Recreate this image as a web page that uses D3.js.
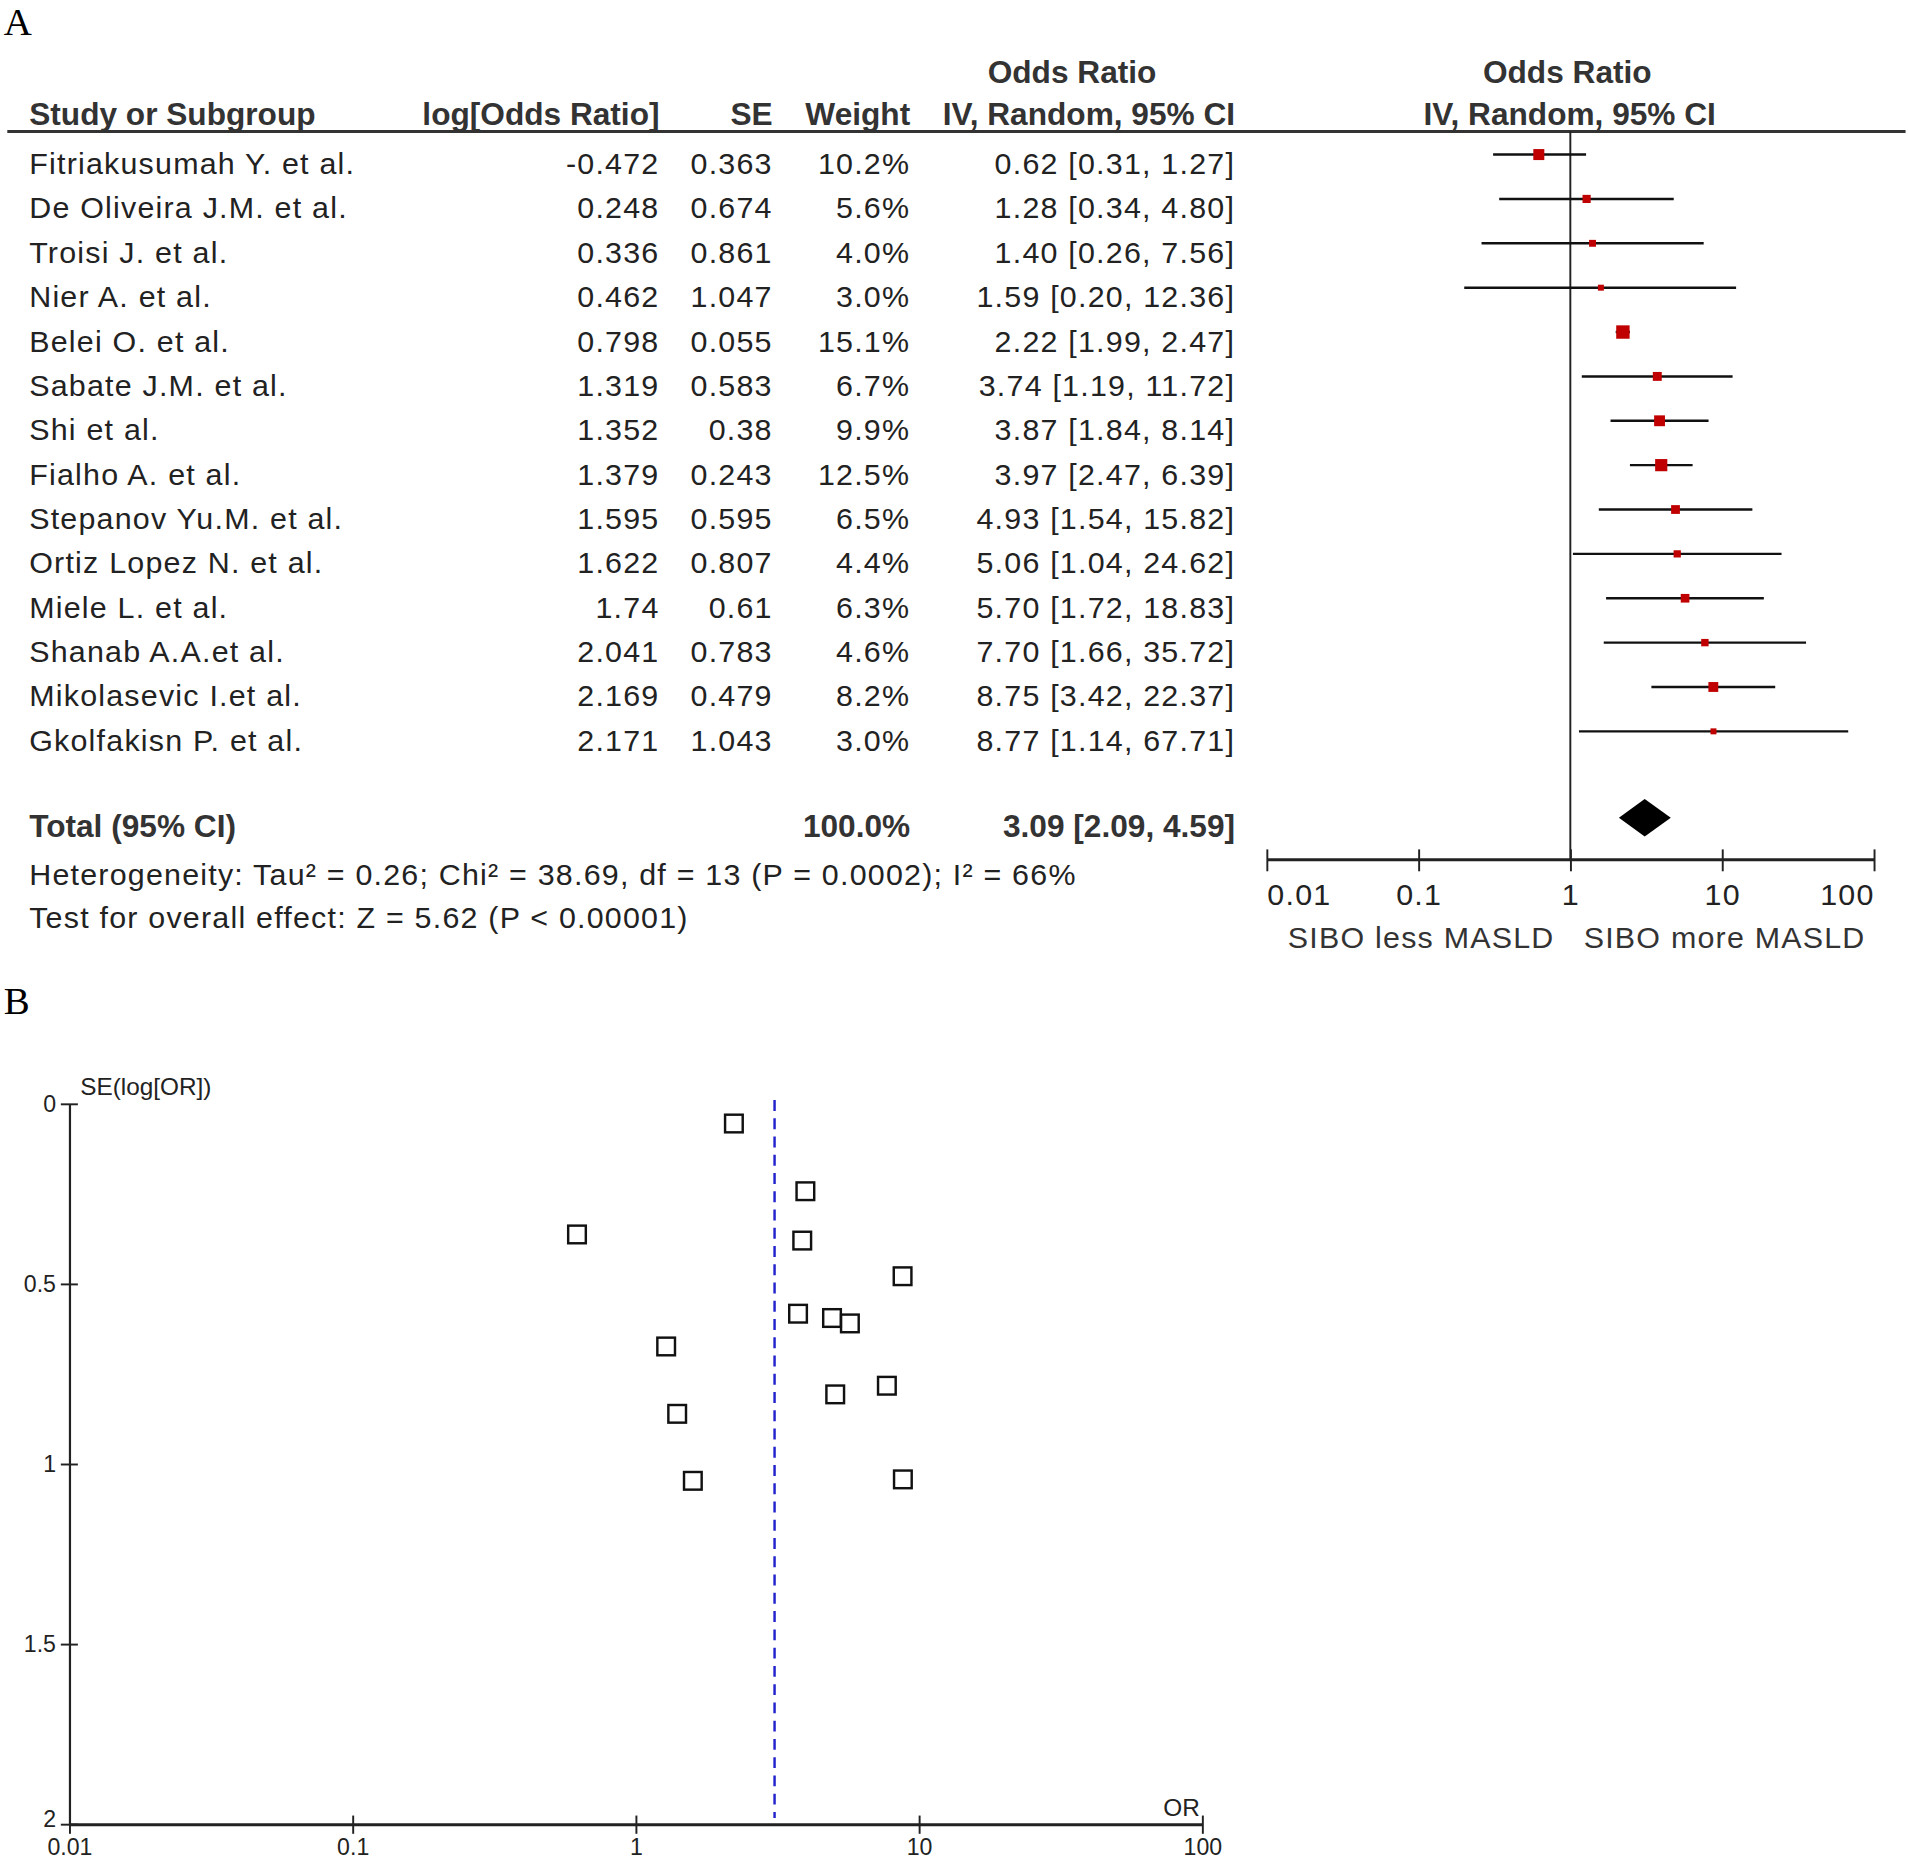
<!DOCTYPE html>
<html>
<head>
<meta charset="utf-8">
<script src="https://cdn.jsdelivr.net/npm/d3@7"></script>
<style>
  body { margin: 0; background: #fff; }
  text { font-family: "Liberation Sans", Arial, sans-serif; fill: #222; }
</style>
</head>
<body>
<div id="chart"></div>
<script>
// Study data.
var studies = ["Fitriakusumah Y. et al.", "De Oliveira J.M. et al.", "Troisi J. et al.",
               "Nier A. et al.", "Belei O. et al.", "Sabate J.M. et al.", "Shi et al.",
               "Fialho A. et al.", "Stepanov Yu.M. et al.", "Ortiz Lopez N. et al.",
               "Miele L. et al.", "Shanab A.A.et al.", "Mikolasevic I.et al.", "Gkolfakisn P. et al."];
var logOR  = [-0.472, 0.248, 0.336, 0.462, 0.798, 1.319, 1.352, 1.379, 1.595, 1.622, 1.74, 2.041, 2.169, 2.171];
var se     = [0.363, 0.674, 0.861, 1.047, 0.055, 0.583, 0.38, 0.243, 0.595, 0.807, 0.61, 0.783, 0.479, 1.043];
var weight = [10.2, 5.6, 4.0, 3.0, 15.1, 6.7, 9.9, 12.5, 6.5, 4.4, 6.3, 4.6, 8.2, 3.0];
var oddsR  = [0.62, 1.28, 1.40, 1.59, 2.22, 3.74, 3.87, 3.97, 4.93, 5.06, 5.70, 7.70, 8.75, 8.77];
var lower  = [0.31, 0.34, 0.26, 0.20, 1.99, 1.19, 1.84, 2.47, 1.54, 1.04, 1.72, 1.66, 3.42, 1.14];
var upper  = [1.27, 4.80, 7.56, 12.36, 2.47, 11.72, 8.14, 6.39, 15.82, 24.62, 18.83, 35.72, 22.37, 67.71];

// Pooled result and footer text.
var total = {or: 3.09, lower: 2.09, upper: 4.59, weight: 100.0};
var heterogeneity = "Heterogeneity: Tau\u00b2 = 0.26; Chi\u00b2 = 38.69, df = 13 (P = 0.0002); I\u00b2 = 66%";
var overallTest = "Test for overall effect: Z = 5.62 (P < 0.00001)";
var forestLabels = ["SIBO less MASLD", "SIBO more MASLD"];

// Axis ticks.
var orTicks = [0.01, 0.1, 1, 10, 100];
var seTicks = [0, 0.5, 1, 1.5, 2];

// Whole picture is laid out in a 1568-wide frame and scaled up to the window.
var W = 1568, H = 1528.5;
var svg = d3.select("#chart").append("svg")
    .attr("width", 1908)
    .attr("height", 1860)
    .attr("viewBox", "0 0 " + W + " " + H);

// Panel letters.
svg.append("text").attr("x", 3).attr("y", 29).text("A")
    .style("font-family", "'Liberation Serif', 'Times New Roman', serif")
    .attr("font-size", 32).style("fill", "#000");
svg.append("text").attr("x", 3).attr("y", 833).text("B")
    .style("font-family", "'Liberation Serif', 'Times New Roman', serif")
    .attr("font-size", 32).style("fill", "#000");

// ---------------- Panel A: forest plot ----------------
var fs = 25;           // body font size
var ls = 1;            // letter spacing for body text
var col = {study: 24, logor: 542, se: 635, weight: 748, ci: 1015};

var header = svg.append("g").attr("font-weight", "bold").attr("font-size", 26);
header.append("text").attr("x", 881).attr("y", 68).attr("text-anchor", "middle").text("Odds Ratio").style("fill", "#333");
header.append("text").attr("x", 1288).attr("y", 68).attr("text-anchor", "middle").text("Odds Ratio").style("fill", "#333");
header.append("text").attr("x", col.study).attr("y", 103).text("Study or Subgroup").style("fill", "#333");
header.append("text").attr("x", col.logor).attr("y", 103).attr("text-anchor", "end").text("log[Odds Ratio]").style("fill", "#333");
header.append("text").attr("x", col.se).attr("y", 103).attr("text-anchor", "end").text("SE").style("fill", "#333");
header.append("text").attr("x", col.weight).attr("y", 103).attr("text-anchor", "end").text("Weight").style("fill", "#333");
header.append("text").attr("x", col.ci).attr("y", 103).attr("text-anchor", "end").text("IV, Random, 95% CI").style("fill", "#333");
header.append("text").attr("x", 1290).attr("y", 103).attr("text-anchor", "middle").text("IV, Random, 95% CI").style("fill", "#333");

svg.append("line")
    .attr("x1", 6).attr("x2", 1566).attr("y1", 108).attr("y2", 108)
    .attr("stroke", "#333").attr("stroke-width", 2.5);

var rowY = d3.scaleLinear().domain([0, studies.length - 1]).range([143, 617]);
var x = d3.scaleLog().domain([0.01, 100]).range([1041, 1540]);
var boxSize = d3.scaleSqrt().domain([0, 15.1]).range([0, 11]);

var rows = svg.append("g").attr("font-size", fs).attr("letter-spacing", ls);
var row = rows.selectAll("g.row").data(studies).enter().append("g").attr("class", "row");

row.append("text").attr("x", col.study).attr("y", function(d, i) { return rowY(i); }).text(function(d) { return d; });
row.append("text").attr("x", col.logor).attr("y", function(d, i) { return rowY(i); }).attr("text-anchor", "end")
    .text(function(d, i) { return String(logOR[i]); });
row.append("text").attr("x", col.se).attr("y", function(d, i) { return rowY(i); }).attr("text-anchor", "end")
    .text(function(d, i) { return String(se[i]); });
row.append("text").attr("x", col.weight).attr("y", function(d, i) { return rowY(i); }).attr("text-anchor", "end")
    .text(function(d, i) { return weight[i].toFixed(1) + "%"; });
row.append("text").attr("x", col.ci).attr("y", function(d, i) { return rowY(i); }).attr("text-anchor", "end")
    .text(function(d, i) { return oddsR[i].toFixed(2) + " [" + lower[i].toFixed(2) + ", " + upper[i].toFixed(2) + "]"; });

// Line of no effect.
svg.append("line")
    .attr("x1", x(1)).attr("x2", x(1)).attr("y1", 108).attr("y2", 706)
    .attr("stroke", "#222").attr("stroke-width", 1.6);

// Confidence intervals and weighted boxes.
var marks = svg.append("g");
marks.selectAll("line.ci").data(studies).enter().append("line")
    .attr("class", "ci")
    .attr("x1", function(d, i) { return x(lower[i]); })
    .attr("x2", function(d, i) { return x(upper[i]); })
    .attr("y1", function(d, i) { return rowY(i) - 16; })
    .attr("y2", function(d, i) { return rowY(i) - 16; })
    .attr("stroke", "#111").attr("stroke-width", 2);
marks.selectAll("rect.box").data(studies).enter().append("rect")
    .attr("class", "box")
    .attr("x", function(d, i) { return x(oddsR[i]) - boxSize(weight[i]) / 2; })
    .attr("y", function(d, i) { return rowY(i) - 16 - boxSize(weight[i]) / 2; })
    .attr("width", function(d, i) { return boxSize(weight[i]); })
    .attr("height", function(d, i) { return boxSize(weight[i]); })
    .attr("fill", "#c00000");

// Total row.
var totalY = 688;
var tot = svg.append("g").attr("font-size", 26).attr("font-weight", "bold");
tot.append("text").attr("x", col.study).attr("y", totalY).text("Total (95% CI)").style("fill", "#333");
tot.append("text").attr("x", col.weight).attr("y", totalY).attr("text-anchor", "end")
    .text(total.weight.toFixed(1) + "%").style("fill", "#333");
tot.append("text").attr("x", col.ci).attr("y", totalY).attr("text-anchor", "end")
    .text(total.or.toFixed(2) + " [" + total.lower.toFixed(2) + ", " + total.upper.toFixed(2) + "]").style("fill", "#333");

var dy = totalY - 16;
svg.append("path")
    .attr("d", "M" + x(total.lower) + "," + dy +
               "L" + x(total.or) + "," + (dy - 15.5) +
               "L" + x(total.upper) + "," + dy +
               "L" + x(total.or) + "," + (dy + 15.5) + "Z")
    .attr("fill", "#000");

svg.append("text").attr("x", col.study).attr("y", 727).attr("font-size", fs).attr("letter-spacing", ls).text(heterogeneity);
svg.append("text").attr("x", col.study).attr("y", 763).attr("font-size", fs).attr("letter-spacing", ls).text(overallTest);

// Forest axis.
var fAxis = svg.append("g")
    .attr("transform", "translate(0,706)")
    .call(d3.axisBottom(x).tickValues(orTicks).tickFormat(function(d) { return String(d); }).tickSizeOuter(0));
fAxis.select(".domain").attr("stroke", "#222").attr("stroke-width", 2.5);
fAxis.selectAll(".tick line").attr("y1", -8).attr("y2", 10).attr("stroke", "#222").attr("stroke-width", 1.6);
fAxis.selectAll(".tick text")
    .attr("y", 20).attr("dy", "0.71em")
    .attr("font-size", fs).attr("letter-spacing", ls)
    .style("font-family", "'Liberation Sans', Arial, sans-serif").style("fill", "#222")
    .attr("text-anchor", function(d, i) { return i === 0 ? "start" : (i === orTicks.length - 1 ? "end" : "middle"); });

svg.append("text").attr("x", x(1) - 13).attr("y", 779).attr("text-anchor", "end")
    .attr("font-size", fs).attr("letter-spacing", ls).text(forestLabels[0]).style("fill", "#333");
svg.append("text").attr("x", x(1) + 11).attr("y", 779)
    .attr("font-size", fs).attr("letter-spacing", ls).text(forestLabels[1]).style("fill", "#333");

// ---------------- Panel B: funnel plot ----------------
var fx = d3.scaleLog().domain([0.01, 100]).range([57, 988]);
var fy = d3.scaleLinear().domain([0, 2]).range([907, 1499]);

var yAxis = svg.append("g")
    .attr("transform", "translate(" + fx.range()[0] + ",0)")
    .call(d3.axisLeft(fy).tickValues(seTicks).tickFormat(function(d) { return String(d); }).tickSizeOuter(0));
yAxis.select(".domain").attr("stroke", "#222").attr("stroke-width", 1.8);
yAxis.selectAll(".tick line").attr("x1", 7).attr("x2", -7).attr("stroke", "#222").attr("stroke-width", 1.6);
yAxis.selectAll(".tick text").attr("x", -11)
    .attr("dy", function(d) { return d === 2 ? "0.1em" : "0.32em"; })
    .attr("font-size", 19).style("font-family", "'Liberation Sans', Arial, sans-serif").style("fill", "#222");

var xAxis = svg.append("g")
    .attr("transform", "translate(0," + fy.range()[1] + ")")
    .call(d3.axisBottom(fx).tickValues(orTicks).tickFormat(function(d) { return String(d); }).tickSizeOuter(0));
xAxis.select(".domain").attr("stroke", "#222").attr("stroke-width", 2.5);
xAxis.selectAll(".tick line").attr("y1", -7).attr("y2", 8).attr("stroke", "#222").attr("stroke-width", 1.6);
xAxis.selectAll(".tick text").attr("y", 12)
    .attr("font-size", 19).style("font-family", "'Liberation Sans', Arial, sans-serif").style("fill", "#222");

svg.append("text").attr("x", 66).attr("y", 900).attr("font-size", 20).text("SE(log[OR])");
svg.append("text").attr("x", 986).attr("y", 1492).attr("text-anchor", "end").attr("font-size", 20).text("OR");

// Pooled estimate (dashed).
svg.append("line")
    .attr("x1", fx(total.or)).attr("x2", fx(total.or))
    .attr("y1", fy(0) - 3).attr("y2", fy(2) - 5)
    .attr("stroke", "#2222cc").attr("stroke-width", 2)
    .attr("stroke-dasharray", "9,6");

var sq = 14.5;
svg.append("g").selectAll("rect").data(studies).enter().append("rect")
    .attr("x", function(d, i) { return fx(oddsR[i]) - sq / 2; })
    .attr("y", function(d, i) { return fy(se[i]) - sq / 2; })
    .attr("width", sq).attr("height", sq)
    .attr("fill", "none").attr("stroke", "#111").attr("stroke-width", 2);
</script>
</body>
</html>
